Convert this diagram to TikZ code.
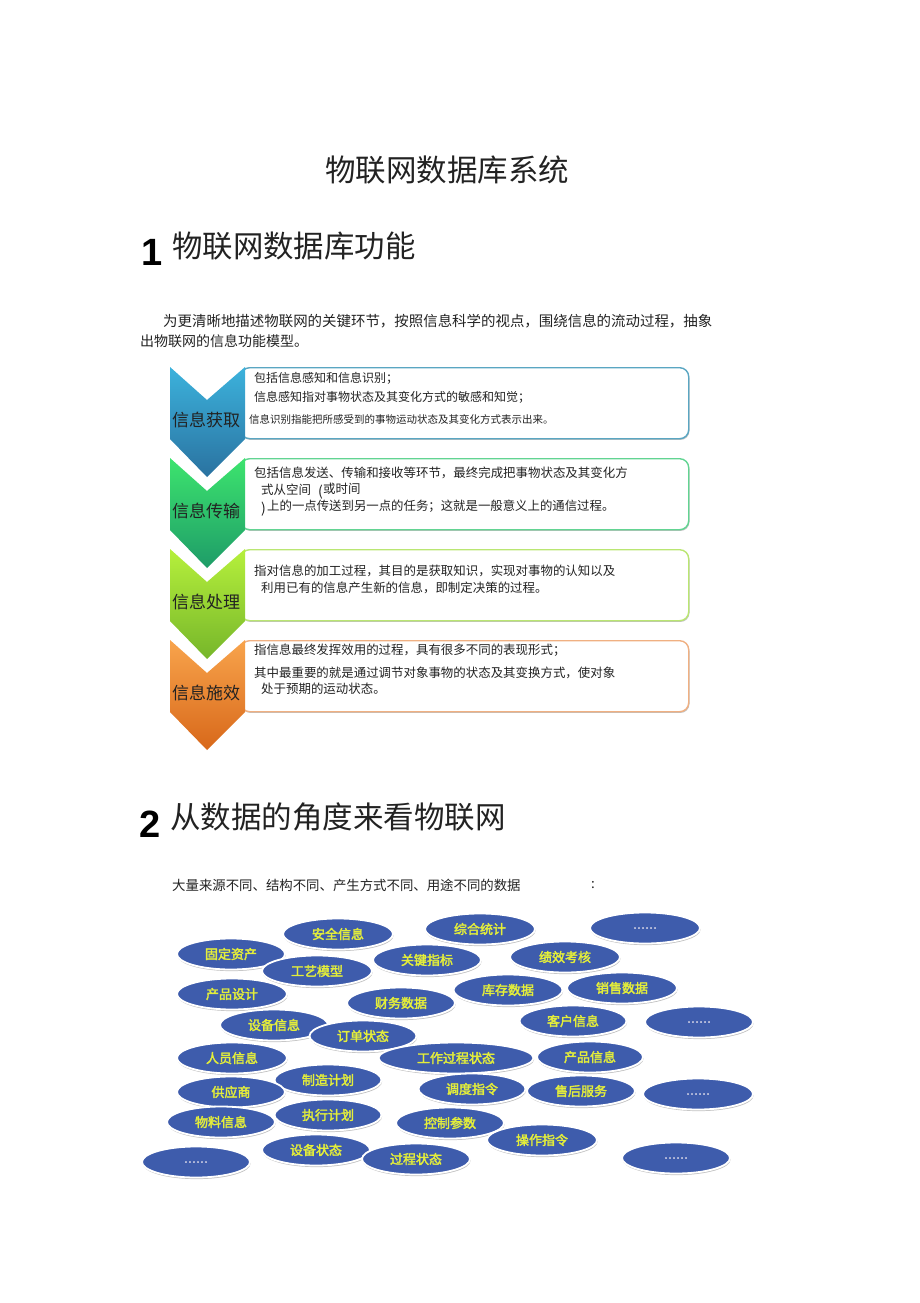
\documentclass[tikz,border=0pt]{standalone}
\usepackage{fontspec}
\setmainfont{Noto Sans CJK SC}
\newfontfamily\numfont{Liberation Sans}
\newfontfamily\blobfont[FakeBold=2.5]{Noto Sans CJK SC}
\usetikzlibrary{shapes.geometric,shadows}

\definecolor{chevAtop}{HTML}{3CB2DC}
\definecolor{chevAbot}{HTML}{2A72A0}
\definecolor{chevBtop}{HTML}{3DE46E}
\definecolor{chevBbot}{HTML}{1E9C68}
\definecolor{chevCtop}{HTML}{B6F03C}
\definecolor{chevCbot}{HTML}{76B62A}
\definecolor{chevDtop}{HTML}{F8A44C}
\definecolor{chevDbot}{HTML}{D8681A}
\definecolor{edgeA}{HTML}{5AA6C2}
\definecolor{edgeB}{HTML}{62D492}
\definecolor{edgeC}{HTML}{BAE672}
\definecolor{edgeD}{HTML}{F0B082}
\definecolor{blobblue}{HTML}{3E5CAC}
\definecolor{blobtext}{HTML}{E4EE3A}
\definecolor{ink}{HTML}{222222}

% dots inside a blob (a plain ...... would be read as a \foreach range)
\newcommand\moredots{{\fontsize{9}{9}\selectfont\color{white!85!pink}.\,.\,.\,.\,.\,.}}

\tikzset{
  infobox/.style={rectangle, rounded corners=9pt, fill=white, line width=1.4pt,
    minimum width=448pt, minimum height=71pt, anchor=north west,
    drop shadow={shadow xshift=0.8pt, shadow yshift=-1.2pt, opacity=.25, fill=black}},
  chevlabel/.style={inner sep=0, text=ink, font=\fontsize{17}{17}\selectfont},
  boxline/.style={anchor=west, inner sep=0, text=ink},
  datablob/.style={ellipse, inner sep=0, minimum height=31pt, fill=blobblue,
    draw=white, line width=1.8pt, text=blobtext,
    font=\blobfont\fontsize{13}{13}\selectfont,
    drop shadow={shadow xshift=0.6pt, shadow yshift=-1.6pt, opacity=.35, fill=black!70}}
}

\begin{document}
\begin{tikzpicture}[x=1pt, y=-1pt]
\useasboundingbox (0,0) rectangle (920,1303);

% headings
\node [inner sep=0, text=ink, font=\fontsize{30.5}{30.5}\selectfont] (title) at (447,170) {物联网数据库系统};
\node [anchor=base, inner sep=0, font=\numfont\bfseries\fontsize{38}{38}\selectfont] (num-1) at (152,265) {1};
\node [anchor=west, inner sep=0, text=ink, font=\fontsize{30.4}{30.4}\selectfont] (head-1) at (172,246) {物联网数据库功能};
\node [boxline, font=\fontsize{14.45}{14.45}\selectfont] (para-1) at (163,321) {为更清晰地描述物联网的关键环节，按照信息科学的视点，围绕信息的流动过程，抽象};
\node [boxline, font=\fontsize{14}{14}\selectfont] (para-2) at (140,341) {出物联网的信息功能模型。};

% text boxes
\foreach \c [count=\i] in {edgeA,edgeB,edgeC,edgeD}
  \node [infobox, draw=\c] (box-\i) at (240,{367+91*(\i-1)}) {};

% chevrons
\foreach \ct/\cb/\l [count=\i] in {chevAtop/chevAbot/信息获取, chevBtop/chevBbot/信息传输,
    chevCtop/chevCbot/信息处理, chevDtop/chevDbot/信息施效} {
  \pgfmathsetmacro\yt{367+91*(\i-1)}
  \shade [top color=\ct, bottom color=\cb]
    (170,\yt) -- (207,{\yt+33}) -- (245,\yt) -- (245,{\yt+72})
    -- (207,{\yt+110}) -- (170,{\yt+72}) -- cycle;
  \node [chevlabel] (step-\i) at (206,{\yt+53}) {\l};
}

% lines in the boxes
\foreach \x/\y/\s/\t [count=\k] in {
    254/378/12/包括信息感知和信息识别；,
    254/397/12/信息感知指对事物状态及其变化方式的敏感和知觉；,
    249/419/10.5/信息识别指能把所感受到的事物运动状态及其变化方式表示出来。,
    254/473/12.45/包括信息发送、传输和接收等环节，最终完成把事物状态及其变化方,
    261/490/12.45/式从空间,
    323/489/12.45/或时间,
    267/506/12.4/上的一点传送到另一点的任务；这就是一般意义上的通信过程。,
    254/571/12.45/指对信息的加工过程，其目的是获取知识，实现对事物的认知以及,
    261/588/12.45/利用已有的信息产生新的信息，即制定决策的过程。,
    254/650/12.45/指信息最终发挥效用的过程，具有很多不同的表现形式；,
    254/673/12.45/其中最重要的就是通过调节对象事物的状态及其变换方式，使对象,
    261/689/12.45/处于预期的运动状态。}
  \node [boxline, font=\fontsize{\s}{\s}\selectfont] (line-\k) at (\x,\y) {\t};
\node [boxline, font=\fontsize{14}{14}\selectfont] (open-paren) at (318,492) {(};
\node [boxline, font=\fontsize{14}{14}\selectfont] (close-paren) at (261,509) {)};

% second section
\node [anchor=base, inner sep=0, font=\numfont\bfseries\fontsize{38}{38}\selectfont] (num-2) at (150,837) {2};
\node [anchor=west, inner sep=0, text=ink, font=\fontsize{30.5}{30.5}\selectfont] (head-2) at (170,817) {从数据的角度来看物联网};
\node [boxline, font=\fontsize{13.4}{13.4}\selectfont] (para-3) at (172,885) {大量来源不同、结构不同、产生方式不同、用途不同的数据};
\node [boxline, font=\fontsize{13.4}{13.4}\selectfont] (colon) at (591,885) {:};

% data ellipses, top to bottom
\foreach \x/\y/\w/\t [count=\n] in {
    480/929/110/综合统计, 645/928/110/\moredots, 338/934/110/安全信息,
    231/954/108/固定资产, 565/957/110/绩效考核, 427/960/108/关键指标,
    317/971/110/工艺模型, 622/988/110/销售数据, 508/990/109/库存数据,
    232/994/110/产品设计, 401/1003/108/财务数据, 573/1021/107/客户信息,
    699/1022/108/\moredots, 274/1025/108/设备信息, 363/1036/107/订单状态,
    590/1057/106/产品信息, 232/1058/110/人员信息, 456/1058/155/工作过程状态,
    328/1080/107/制造计划, 472/1089/107/调度指令, 581/1091/108/售后服务,
    231/1092/108/供应商, 698/1094/110/\moredots, 328/1115/107/执行计划,
    221/1122/108/物料信息, 450/1123/108/控制参数, 542/1140/110/操作指令,
    316/1150/108/设备状态, 676/1158/108/\moredots, 416/1159/108/过程状态,
    196/1162/108/\moredots}
  \node [datablob, minimum width=\w pt] (blob-\n) at (\x,\y) {\t};

\end{tikzpicture}
\end{document}
